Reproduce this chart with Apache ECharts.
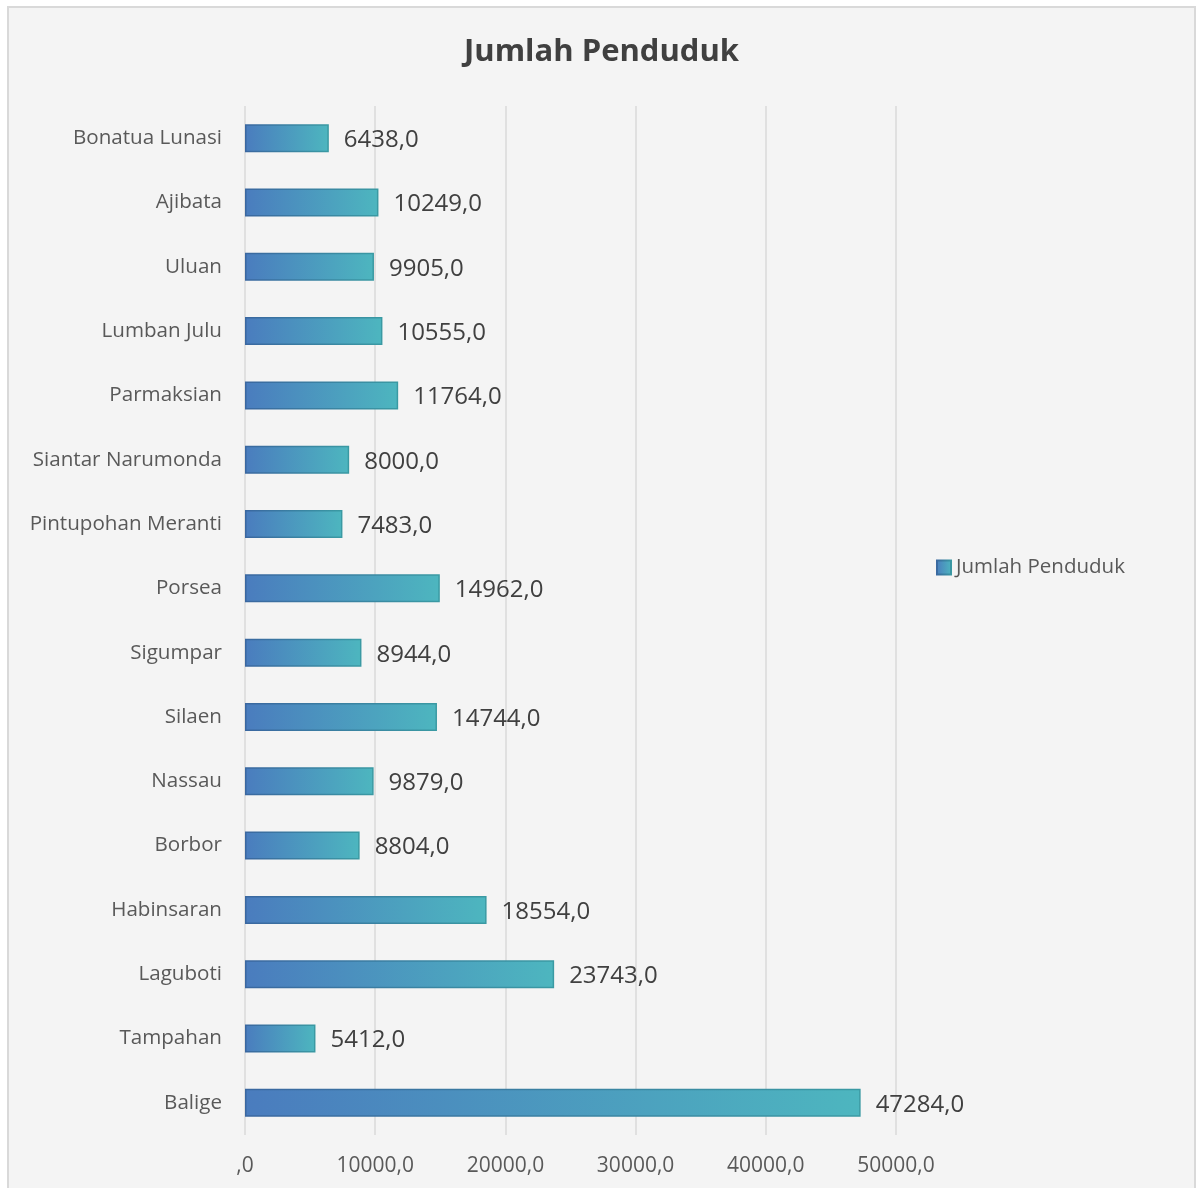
<!DOCTYPE html>
<html>
<head>
<meta charset="utf-8">
<script src="https://cdn.jsdelivr.net/npm/echarts@6/dist/echarts.min.js"></script>
<style>
html,body{margin:0;padding:0;background:#ffffff;}
#chart{width:1197px;height:1188px;}
</style>
</head>
<body>
<div id="chart"></div>
<script>
// Data (bottom to top, as in the source axis order)
const categories = ["Balige","Tampahan","Laguboti","Habinsaran","Borbor","Nassau","Silaen","Sigumpar","Porsea","Pintupohan Meranti","Siantar Narumonda","Parmaksian","Lumban Julu","Uluan","Ajibata","Bonatua Lunasi"];
const values = [47284,5412,23743,18554,8804,9879,14744,8944,14962,7483,8000,11764,10555,9905,10249,6438];
const seriesName = "Jumlah Penduduk";
const chartTitle = "Jumlah Penduduk";
const xTicks = [0,10000,20000,30000,40000,50000];

function fmt(v){
  if (v === 0) return ",0";
  return String(v) + ",0";
}

const chart = echarts.init(document.getElementById('chart'), null, {renderer:'canvas'});
const fontFam = '"Open Sans", "Noto Sans", sans-serif';
const barGrad = new echarts.graphic.LinearGradient(0,0,1,0,[
  {offset:0,color:'#4a7cbe'},{offset:1,color:'#4db6bf'}
]);
const borderGrad = new echarts.graphic.LinearGradient(0,0,1,0,[
  {offset:0,color:'#3a67a0'},{offset:1,color:'#3a9aa3'}
]);
chart.setOption({
  backgroundColor:'#ffffff',
  animation:false,
  graphic:[{
    type:'rect', z:-10, silent:true,
    shape:{x:8,y:7,width:1187,height:1195},
    style:{fill:'#f4f4f4',stroke:'#d9d9d9',lineWidth:2}
  }],
  title:{
    text:chartTitle,
    left:464, top:37, padding:0,
    textStyle:{fontFamily:fontFam,fontSize:31,fontWeight:'bold',color:'#404040'}
  },
  legend:{
    orient:'vertical',
    left:936, top:557, padding:0,
    itemWidth:14, itemHeight:14, itemGap:5,
    icon:'rect',
    textStyle:{fontFamily:fontFam,fontSize:20.5,color:'#595959'},
    data:[seriesName]
  },
  grid:{left:245,right:301,top:106,bottom:53,containLabel:false},
  xAxis:{
    type:'value', min:0, max:50000, interval:10000,
    axisLine:{show:false}, axisTick:{show:false},
    splitLine:{show:true,lineStyle:{color:'#e0e0e0',width:2}},
    axisLabel:{fontFamily:fontFam,fontSize:21,color:'#595959',margin:21,formatter:fmt}
  },
  yAxis:{
    type:'category', data:categories,
    axisLine:{show:false}, axisTick:{show:false},
    axisLabel:{fontFamily:fontFam,fontSize:20.6,color:'#595959',margin:23,padding:[5,0,0,0]}
  },
  series:[{
    name:seriesName,
    type:'bar',
    data:values,
    barWidth:28,
    itemStyle:{color:barGrad,borderColor:borderGrad,borderWidth:1.5},
    label:{
      show:true, position:'right', distance:15, offset:[0,2],
      fontFamily:fontFam, fontSize:24, color:'#404040',
      formatter:p=>fmt(p.value)
    }
  }]
});
</script>
</body>
</html>
